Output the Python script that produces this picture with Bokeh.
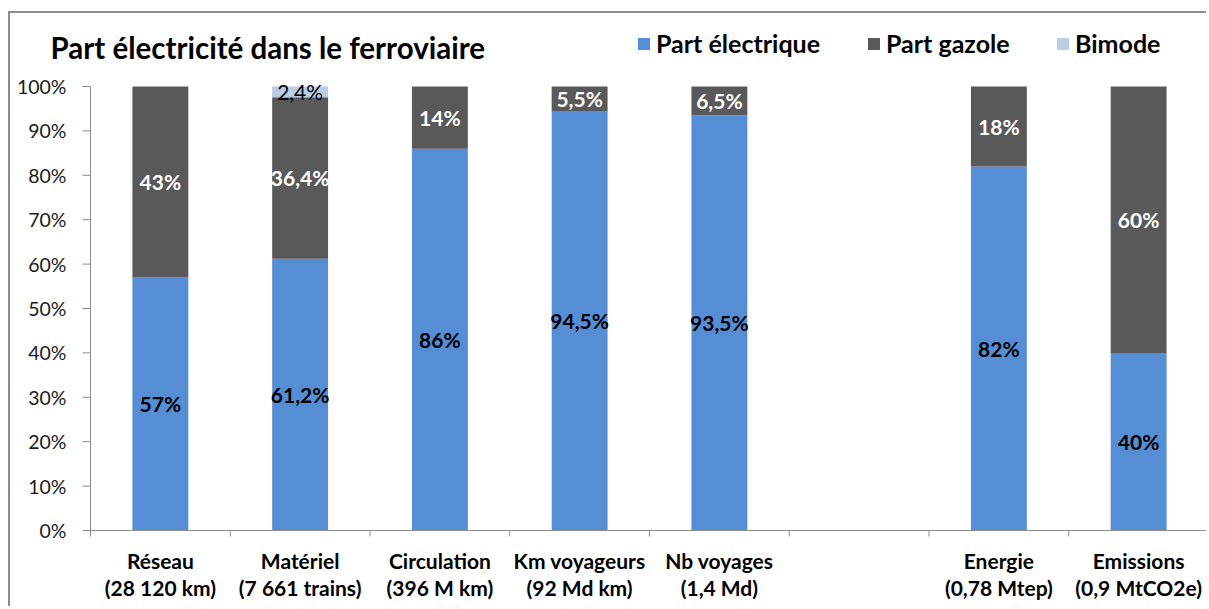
import math
from bokeh.plotting import figure
from bokeh.models import ColumnDataSource, Label, Legend, LegendItem, LabelSet
from bokeh.core.properties import value
from bokeh.embed import file_html
from bokeh.resources import INLINE

# ---- data ----
categories = ["Réseau\n(28 120 km)", "Matériel\n(7 661 trains)", "Circulation\n(396 M km)",
              "Km voyageurs\n(92 Md km)", "Nb voyages\n(1,4 Md)", "",
              "Energie\n(0,78 Mtep)", "Emissions\n(0,9 MtCO2e)"]
electrique = [57, 61.2, 86, 94.5, 93.5, 0, 82, 40]
gazole = [43, 36.4, 14, 5.5, 6.5, 0, 18, 60]
bimode = [0, 2.4, 0, 0, 0, 0, 0, 0]
series_names = ["Part électrique", "Part gazole", "Bimode"]
series_colors = ["#558ED5", "#595959", "#B9CDE5"]
y_ticks = [0, 10, 20, 30, 40, 50, 60, 70, 80, 90, 100]
y_tick_labels = ["0%", "10%", "20%", "30%", "40%", "50%", "60%", "70%", "80%", "90%", "100%"]
title_text = "Part électricité dans le ferroviaire"

FONT = "Lato"
AXIS_GREY = "#8c8c8c"
n = len(categories)
xs = [i + 0.5 for i in range(n)]

def fr(v):
    return ("%g" % v).replace(".", ",") + "%"

# frame covers the whole canvas; the axes are drawn at data x = 0 and y = 0
PX_PER_CAT = (1198 - 80) / n
PX_PER_PCT = 4.44
p = figure(width=1198, height=595, x_range=(-80 / PX_PER_CAT, n),
           y_range=(-78 / PX_PER_PCT, 510 / PX_PER_PCT),
           output_backend="svg", toolbar_location=None,
           min_border_left=0, min_border_right=0, min_border_top=7, min_border_bottom=0)
p.styles = {"border-left": "2px solid #8c8c8c", "border-top": "2px solid #8c8c8c",
            "margin-top": "11px", "margin-left": "8px"}
p.outline_line_color = None
p.xgrid.grid_line_color = None
p.ygrid.grid_line_color = None
p.xaxis.visible = False
p.yaxis.visible = False
p.background_fill_color = "white"
p.border_fill_color = "white"

series = [electrique, gazole, bimode]
renderers = []
bottom = [0.0] * n
label_sources = []
for k, vals in enumerate(series):
    top = [b + v for b, v in zip(bottom, vals)]
    src = ColumnDataSource(dict(x=xs, bottom=bottom, top=top))
    r = p.vbar(x="x", bottom="bottom", top="top", width=0.4, source=src,
               fill_color=series_colors[k], line_color=None)
    renderers.append(r)
    lx, ly, lt = [], [], []
    for i in range(n):
        if vals[i] > 0:
            lx.append(xs[i])
            ly.append((bottom[i] + top[i]) / 2)
            lt.append(fr(vals[i]))
    label_sources.append(ColumnDataSource(dict(x=lx, y=ly, t=lt)))
    bottom = top

label_colors = ["black", "white", "black"]
label_weights = ["bold", "bold", "normal"]
for k in range(3):
    ls = LabelSet(x="x", y="y", text="t", source=label_sources[k],
                  text_align="center", text_baseline="middle",
                  text_font=value(FONT), text_font_size=value("21px"),
                  text_font_style=value(label_weights[k]), text_color=value(label_colors[k]))
    p.add_layout(ls)

# ---- value axis at x = 0 ----
p.segment(x0=[0], y0=[y_ticks[0]], x1=[0], y1=[y_ticks[-1]], line_color=AXIS_GREY, line_width=1)
tick_src = ColumnDataSource(dict(x=[0] * len(y_ticks), y=y_ticks, t=y_tick_labels))
p.ray(x="x", y="y", length=8, length_units="screen", angle=math.pi, source=tick_src,
      line_color=AXIS_GREY, line_width=1)
p.add_layout(LabelSet(x="x", y="y", text="t", source=tick_src, x_offset=-24,
                      text_align="right", text_baseline="middle",
                      text_font=value(FONT), text_font_size=value("19.5px"),
                      text_color=value("#1a1a1a")))

# ---- category axis at y = 0 ----
p.segment(x0=[0], y0=[0], x1=[n], y1=[0], line_color=AXIS_GREY, line_width=1)
bound_src = ColumnDataSource(dict(x=list(range(n + 1)), y=[0] * (n + 1)))
p.ray(x="x", y="y", length=6, length_units="screen", angle=-math.pi / 2, source=bound_src,
      line_color=AXIS_GREY, line_width=1)
line1 = [c.split("\n")[0] if c else "" for c in categories]
line2 = [c.split("\n")[1] if "\n" in c else "" for c in categories]
cat_src = ColumnDataSource(dict(x=xs, y=[0] * n, l1=line1, l2=line2))
for col, off in (("l1", -30), ("l2", -57)):
    p.add_layout(LabelSet(x="x", y="y", text=col, source=cat_src, y_offset=off,
                          text_align="center", text_baseline="middle",
                          text_font=value(FONT), text_font_size=value("21px"),
                          text_font_style=value("bold"), text_color=value("black")))

# ---- title ----
p.add_layout(Label(x=-40 / PX_PER_CAT, y=108.8, text=title_text, text_font=FONT,
                   text_font_size="29.5px", text_font_style="bold", text_color="black",
                   text_baseline="middle", text_align="left"))

# ---- legend (one per entry for exact placement) ----
legend_x = [626, 856, 1045]
for k in range(3):
    lg = Legend(items=[LegendItem(label=series_names[k], renderers=[renderers[k]])],
                location=(legend_x[k], 550), orientation="horizontal",
                border_line_color=None, background_fill_alpha=0,
                padding=0, margin=0, glyph_width=15, glyph_height=15,
                label_standoff=5, label_text_font=FONT, label_text_font_style="bold",
                label_text_font_size="25px", label_text_color="black")
    p.add_layout(lg)

open("out.html", "w").write(file_html(p, INLINE))
